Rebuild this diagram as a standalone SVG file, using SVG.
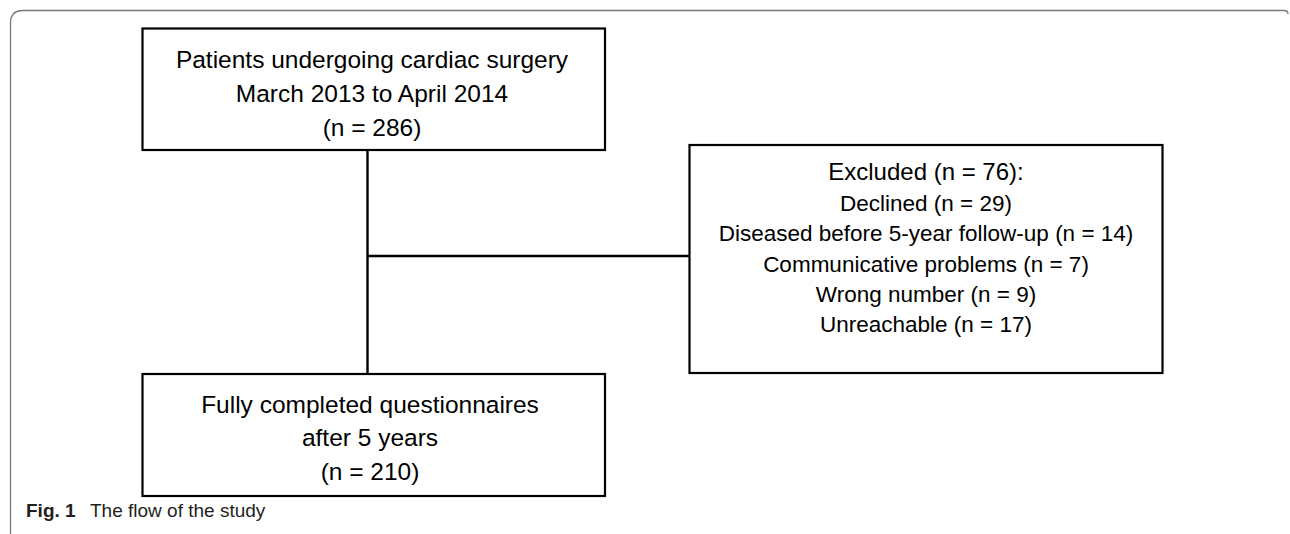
<svg xmlns="http://www.w3.org/2000/svg" width="1290" height="534" viewBox="0 0 1290 534">
<style>
.box{fill:#fff;stroke:#000;stroke-width:2.2}
.t{font-family:"Liberation Sans",Arial,sans-serif;fill:#000;text-anchor:middle}
.big{font-size:24.5px}
.sm{font-size:22.5px}
.conn{stroke:#000;stroke-width:2.4;fill:none}
.frame{stroke:#7a7a7a;stroke-width:1.3;fill:none}
.cap{font-family:"Liberation Sans",Arial,sans-serif;font-size:19px;fill:#231f20}
</style>
<rect width="1290" height="534" fill="#fff"/>
<path class="frame" d="M10.5,534 V23 Q10.5,10.5 23,10.5 H1284 Q1288,10.5 1288,14"/>
<g id="connectors">
<line class="conn" x1="367.5" y1="150" x2="367.5" y2="374"/>
<line class="conn" x1="367.5" y1="256" x2="689" y2="256"/>
</g>
<g id="node-patients">
<rect class="box" x="142.5" y="28.5" width="462.5" height="121.5"/>
<text class="t big" x="372" y="67.5">Patients undergoing cardiac surgery</text>
<text class="t big" x="372" y="102">March 2013 to April 2014</text>
<text class="t big" x="372" y="136">(n = 286)</text>
</g>
<g id="node-excluded">
<rect class="box" x="689.5" y="145" width="473" height="228"/>
<text class="t" font-size="24" x="926" y="180">Excluded (n = 76):</text>
<text class="t sm" x="926" y="211">Declined (n = 29)</text>
<text class="t sm" x="926" y="241">Diseased before 5-year follow-up (n = 14)</text>
<text class="t sm" x="926" y="271.5">Communicative problems (n = 7)</text>
<text class="t sm" x="926" y="302">Wrong number (n = 9)</text>
<text class="t sm" x="926" y="332">Unreachable (n = 17)</text>
</g>
<g id="node-completed">
<rect class="box" x="142.5" y="374" width="462.5" height="122"/>
<text class="t big" x="370" y="412.5">Fully completed questionnaires</text>
<text class="t big" x="370" y="446">after 5 years</text>
<text class="t big" x="370" y="479.5">(n = 210)</text>
</g>
<g id="caption">
<text class="cap" x="26" y="516.5"><tspan font-weight="bold">Fig. 1</tspan><tspan x="90">The flow of the study</tspan></text>
</g>
</svg>
